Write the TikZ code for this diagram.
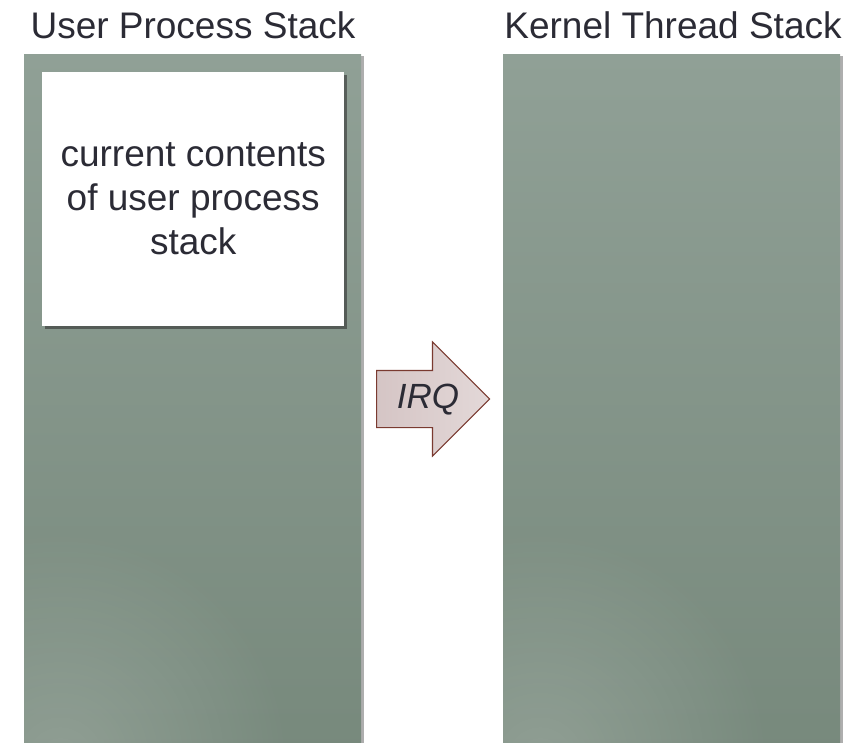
\documentclass[tikz,border=0pt]{standalone}
\usepackage{fontspec}
\setmainfont{Liberation Sans}
\usetikzlibrary{shapes.arrows,shadows,fadings}
\tikzfading[name=glowfade, inner color=transparent!0, outer color=transparent!100]
\definecolor{txt}{HTML}{2B2B35}
\definecolor{stacktop}{HTML}{90A096}
\definecolor{stackbot}{HTML}{77897C}
\definecolor{arrowedge}{HTML}{7A3A30}
\definecolor{arrowfillA}{HTML}{D5C5C5}
\definecolor{arrowfillB}{HTML}{E3D8D8}
\begin{document}
\begin{tikzpicture}[x=1pt,y=-1pt,
  title/.style={font=\fontsize{37}{44}\selectfont, text=txt, inner sep=0pt, anchor=base},
  stackbox/.style={shading angle=200, top color=stacktop, bottom color=stackbot,
    drop shadow={shadow xshift=3pt, shadow yshift=-2pt, opacity=0.45, fill=black!70}},
  contentbox/.style={draw=none, fill=white, inner sep=0pt,
    drop shadow={shadow xshift=3pt, shadow yshift=-3pt, opacity=0.6, fill=black!80},
    font=\fontsize{37}{44}\selectfont, text=txt, align=center},
  irqarrow/.style={single arrow, draw=arrowedge, line width=1.1pt,
    left color=arrowfillA, right color=arrowfillB,
    single arrow tip angle=90, single arrow head extend=28.5pt,
    minimum height=113pt, inner xsep=2pt, inner ysep=12pt,
    text height=26pt, text depth=6pt},
  irqtext/.style={font=\fontsize{35}{40}\selectfont\itshape, text=txt, inner sep=0pt},
  glow/.style={fill=white, opacity=0.18, path fading=glowfade}
]
\useasboundingbox (0,0) rectangle (861,742);
\begin{scope}
\clip (0,0) rectangle (861,742);
% stacks
\node[stackbox, minimum width=337pt, minimum height=700pt, inner sep=0pt, anchor=north west] (user) at (24,54) {};
\node[stackbox, minimum width=337pt, minimum height=700pt, inner sep=0pt, anchor=north west] (kernel) at (503,54) {};
\end{scope}
% lighter bottom-left glow
\begin{scope}
\clip (24,54) rectangle (361,742);
\fill[glow] (60,760) circle (230);
\end{scope}
\begin{scope}
\clip (503,54) rectangle (840,742);
\fill[glow] (540,760) circle (230);
\end{scope}
% titles
\node[title] (utitle) at (193,38) {User Process Stack};
\node[title] (ktitle) at (673,38) {Kernel Thread Stack};
% white contents box
\node[contentbox, minimum width=302pt, minimum height=254pt, anchor=north west] (content) at (42,72)
  {current contents\\of user process\\stack};
% IRQ arrow
\node[irqarrow, anchor=west] (irq) at (376,399) {};
\node[irqtext] (irqlabel) at (428,400) {IRQ};
\end{tikzpicture}
\end{document}
